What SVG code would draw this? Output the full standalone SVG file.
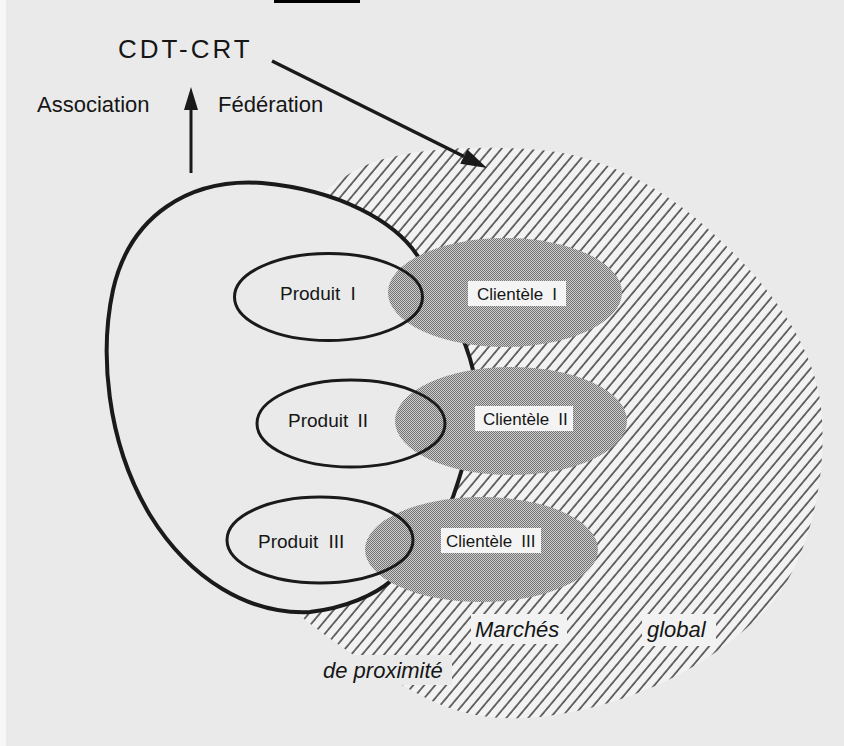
<svg xmlns="http://www.w3.org/2000/svg" width="844" height="746" viewBox="0 0 844 746">
<style>
.t{font-family:"Liberation Sans",Arial,sans-serif;fill:#161616}
.prod{fill:none;stroke:#1a1a1a;stroke-width:3}
.cli{fill:url(#dots)}
.box{fill:#f4f4f4}
.ital{font-style:italic;font-size:22px}
.kh{fill:#f2f2f2}
.kp{fill:#eaeaea}
</style>
<defs>
<pattern id="hatch" patternUnits="userSpaceOnUse" width="8.4" height="8.4" patternTransform="rotate(40)">
<rect width="8.4" height="8.4" fill="#f2f2f2"/>
<line x1="1" y1="0" x2="1" y2="8.4" stroke="#111" stroke-width="1.2"/>
</pattern>
<pattern id="dots" patternUnits="userSpaceOnUse" width="2" height="2">
<rect width="2" height="2" fill="#cdcdcd"/>
<rect x="0" y="0" width="1" height="1" fill="#747474"/>
<rect x="1" y="1" width="1" height="1" fill="#747474"/>
</pattern>
</defs>
<rect width="844" height="746" fill="#eaeaea"/>
<rect width="6" height="746" fill="#f7f7f7"/>
<rect x="274" y="0" width="86" height="3" fill="#000"/>

<g id="marche-global">
<path d="M322,194 C340,178 360,166 380,160 C420,148 480,145 540,150 C600,155 660,185 707,228 C760,275 810,335 820,400 C830,470 810,560 770,605 C720,660 640,705 540,717 C490,722 455,712 430,700 C380,675 330,640 298,614 L250,500 L250,300 Z" fill="url(#hatch)"/>
</g>

<g id="perimetre-proximite">
<path d="M417,255 C395,222 340,190 262,183 C190,178 130,215 113,290 C100,350 105,440 150,515 C190,580 250,615 310,612 C345,608 375,595 392,580 C430,550 450,510 458,482 C470,445 480,400 473,370 C465,335 440,290 417,255 Z" fill="#eaeaea" stroke="#1a1a1a" stroke-width="4"/>
</g>

<g id="clientele-1">
<ellipse class="cli" cx="505" cy="292.5" rx="117" ry="54.5"/>
<rect class="box" x="468" y="281" width="98" height="25"/>
<text class="t" x="477" y="299.5" font-size="17" word-spacing="4.5">Clientèle I</text>
</g>
<g id="clientele-2">
<ellipse class="cli" cx="511" cy="421" rx="116" ry="54"/>
<rect class="box" x="475" y="406" width="98" height="25"/>
<text class="t" x="483" y="424.5" font-size="17" word-spacing="4.5">Clientèle II</text>
</g>
<g id="clientele-3">
<ellipse class="cli" cx="481.5" cy="549.5" rx="116.5" ry="52.5"/>
<rect class="box" x="441" y="528" width="100" height="25"/>
<text class="t" x="446" y="546.5" font-size="17" word-spacing="4.5">Clientèle III</text>
</g>

<g id="produit-1">
<ellipse class="prod" cx="328.5" cy="297" rx="94" ry="43.5"/>
<text class="t" x="280" y="300" font-size="19" word-spacing="5">Produit I</text>
</g>
<g id="produit-2">
<ellipse class="prod" cx="351" cy="423.5" rx="94" ry="43.5"/>
<text class="t" x="288" y="426.5" font-size="19" word-spacing="4">Produit II</text>
</g>
<g id="produit-3">
<ellipse class="prod" cx="320" cy="540" rx="93" ry="43"/>
<text class="t" x="258" y="548" font-size="19" word-spacing="5">Produit III</text>
</g>

<g id="labels-marches">
<rect class="kh" x="471" y="614" width="96" height="30"/>
<text class="t ital" x="475" y="637">Marchés</text>
<rect class="kh" x="642" y="614" width="74" height="32"/>
<text class="t ital" x="647" y="637">global</text>
<rect class="kp" x="318" y="655" width="134" height="30"/>
<text class="t ital" x="323" y="678">de proximité</text>
</g>

<g id="cdt-crt">
<text class="t" x="118" y="58" font-size="26" letter-spacing="3">CDT-CRT</text>
</g>
<g id="labels-haut">
<text class="t" x="37" y="112" font-size="22">Association</text>
<text class="t" x="218" y="112" font-size="22">Fédération</text>
</g>

<g id="connectors" fill="#1a1a1a" stroke="#1a1a1a">
<line x1="191" y1="173" x2="191" y2="106" stroke-width="3"/>
<polygon points="191,87 184,110 198,110" stroke="none"/>
<line x1="272" y1="61" x2="464" y2="156.5" stroke-width="3.5"/>
<polygon points="487,168 460.2,163.7 467.4,149.4" stroke="none"/>
</g>
</svg>
